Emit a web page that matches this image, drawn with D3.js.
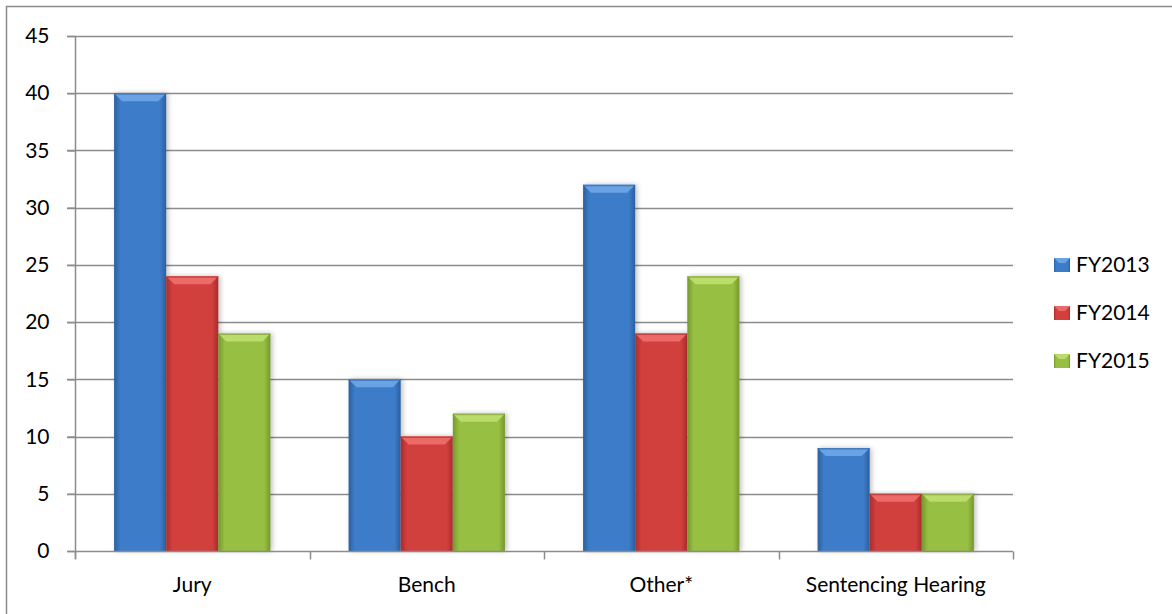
<!DOCTYPE html>
<html>
<head>
<meta charset="utf-8">
<script src="https://cdn.jsdelivr.net/npm/d3@7"></script>
<style>
  body { margin: 0; background: #fff; }
  svg text { font-family: Lato, "Liberation Sans", sans-serif; fill: #000; }
</style>
</head>
<body>
<script>
(function(){
    //chart data
    var categories = ["Jury", "Bench", "Other*", "Sentencing Hearing"];
    var seriesNames = ["FY2013", "FY2014", "FY2015"];
    var fy2013 = [40, 15, 32, 9];
    var fy2014 = [24, 10, 19, 5];
    var fy2015 = [19, 12, 24, 5];
    var yTicks = [0, 5, 10, 15, 20, 25, 30, 35, 40, 45];

    var seriesValues = [fy2013, fy2014, fy2015];
    //base, light, dark colors for each series
    var colors = [
        {base: "#3d7cc9", light: "#6aa2e6", dark: "#2c5f9e"},
        {base: "#d23f3d", light: "#ec6a68", dark: "#a82d2b"},
        {base: "#97bf42", light: "#b9dc6a", dark: "#76972f"}
    ];

    var width = 1172, height = 614;
    var margin = {left: 75, right: 159, top: 36, bottom: 63};

    var svg = d3.select("body").append("svg")
        .attr("width", width)
        .attr("height", height);

    //outer chart border
    svg.append("rect")
        .attr("x", 6.5).attr("y", 6.5)
        .attr("width", width + 20).attr("height", height + 20)
        .attr("fill", "none")
        .attr("stroke", "#8c8c8c")
        .attr("stroke-width", 1.5);

    var defs = svg.append("defs");
    colors.forEach(function(c, i){
        var g = defs.append("linearGradient")
            .attr("id", "grad" + i)
            .attr("x1", "0").attr("x2", "1").attr("y1", "0").attr("y2", "0");
        g.append("stop").attr("offset", "0").attr("stop-color", c.dark);
        g.append("stop").attr("offset", "0.12").attr("stop-color", c.base);
        g.append("stop").attr("offset", "0.5").attr("stop-color", c.base);
        g.append("stop").attr("offset", "0.88").attr("stop-color", c.base);
        g.append("stop").attr("offset", "1").attr("stop-color", c.dark);
    });
    var shadow = defs.append("filter").attr("id", "shadow")
        .attr("x", "-20%").attr("y", "-5%").attr("width", "140%").attr("height", "110%");
    shadow.append("feGaussianBlur").attr("in", "SourceAlpha").attr("stdDeviation", 2.5).attr("result", "blur");
    shadow.append("feOffset").attr("dx", 2).attr("dy", 0).attr("result", "off");
    shadow.append("feComponentTransfer").append("feFuncA").attr("type", "linear").attr("slope", 0.25);
    var merge = shadow.append("feMerge");
    merge.append("feMergeNode");
    merge.append("feMergeNode").attr("in", "SourceGraphic");

    var x0 = d3.scaleBand()
        .domain(categories)
        .range([margin.left, width - margin.right])
        .paddingInner(0)
        .paddingOuter(0);

    var x1 = d3.scaleBand()
        .domain(seriesNames)
        .range([0, x0.bandwidth()])
        .paddingInner(0)
        .paddingOuter(0.75);

    var y = d3.scaleLinear()
        .domain([0, 45])
        .range([height - margin.bottom, margin.top]);

    //gridlines
    svg.append("g").selectAll("line")
        .data(yTicks.slice(1))
        .enter().append("line")
        .attr("x1", margin.left - 8).attr("x2", width - margin.right)
        .attr("y1", function(d){ return Math.round(y(d)) + 0.5; })
        .attr("y2", function(d){ return Math.round(y(d)) + 0.5; })
        .attr("stroke", "#8c8c8c")
        .attr("stroke-width", 1.5);

    //y axis
    var yAxis = svg.append("g")
        .attr("transform", "translate(" + (margin.left + 0.5) + ",0)")
        .call(d3.axisLeft(y).tickValues(yTicks).tickSize(8).tickPadding(18));
    yAxis.selectAll("path, line").attr("stroke", "#8c8c8c").attr("stroke-width", 1.5);
    yAxis.select(".domain").attr("d", "M0," + y(45) + "V" + (y(0) + 8));
    yAxis.selectAll("text").attr("font-size", 21).attr("fill", "#000");

    //bars
    var groups = svg.append("g").selectAll("g")
        .data(categories)
        .enter().append("g")
        .attr("transform", function(d){ return "translate(" + x0(d) + ",0)"; });

    var bars = groups.selectAll("g")
        .data(function(d, ci){
            return seriesNames.map(function(s, si){
                return {series: s, si: si, value: seriesValues[si][ci]};
            });
        })
        .enter().append("g")
        .attr("filter", "url(#shadow)");

    var bw = x1.bandwidth();
    var bev = 8;
    bars.append("rect")
        .attr("x", function(d){ return x1(d.series); })
        .attr("y", function(d){ return y(d.value); })
        .attr("width", bw)
        .attr("height", function(d){ return y(0) - y(d.value); })
        .attr("fill", function(d){ return "url(#grad" + d.si + ")"; });
    //top bevel
    bars.append("path")
        .attr("d", function(d){
            var xl = x1(d.series), yt = y(d.value);
            return "M" + xl + "," + yt + "H" + (xl + bw) + "L" + (xl + bw - bev) + "," + (yt + bev) +
                "H" + (xl + bev) + "Z";
        })
        .attr("fill", function(d){ return colors[d.si].light; });
    bars.append("rect")
        .attr("x", function(d){ return x1(d.series); })
        .attr("y", function(d){ return y(d.value); })
        .attr("width", bw)
        .attr("height", 1.5)
        .attr("fill", function(d){ return colors[d.si].dark; })
        .attr("opacity", 0.6);

    //x axis
    var xAxisY = Math.round(y(0)) + 0.5;
    svg.append("line")
        .attr("x1", margin.left - 8).attr("x2", width - margin.right)
        .attr("y1", xAxisY).attr("y2", xAxisY)
        .attr("stroke", "#8c8c8c").attr("stroke-width", 1.5);
    var bounds = categories.map(function(c){ return x0(c); }).concat([width - margin.right]);
    svg.append("g").selectAll("line")
        .data(bounds)
        .enter().append("line")
        .attr("x1", function(d){ return Math.round(d) + 0.5; })
        .attr("x2", function(d){ return Math.round(d) + 0.5; })
        .attr("y1", xAxisY).attr("y2", xAxisY + 8)
        .attr("stroke", "#8c8c8c").attr("stroke-width", 1.5);
    svg.append("g").selectAll("text")
        .data(categories)
        .enter().append("text")
        .attr("x", function(d){ return x0(d) + x0.bandwidth() / 2; })
        .attr("y", xAxisY + 40)
        .attr("text-anchor", "middle")
        .attr("font-size", 21)
        .text(function(d){ return d; });

    //legend
    var legend = svg.append("g").selectAll("g")
        .data(seriesNames)
        .enter().append("g")
        .attr("transform", function(d, i){ return "translate(1054," + (265 + i * 48) + ")"; });
    legend.append("rect")
        .attr("x", 0).attr("y", -7).attr("width", 16).attr("height", 14)
        .attr("fill", function(d, i){ return "url(#grad" + i + ")"; });
    legend.append("path")
        .attr("d", "M0,-7H16L11,-2H5Z")
        .attr("fill", function(d, i){ return colors[i].light; });
    legend.append("text")
        .attr("x", 22).attr("y", 0)
        .attr("dy", "0.35em")
        .attr("font-size", 21)
        .text(function(d){ return d; });
})();
</script>
</body>
</html>
